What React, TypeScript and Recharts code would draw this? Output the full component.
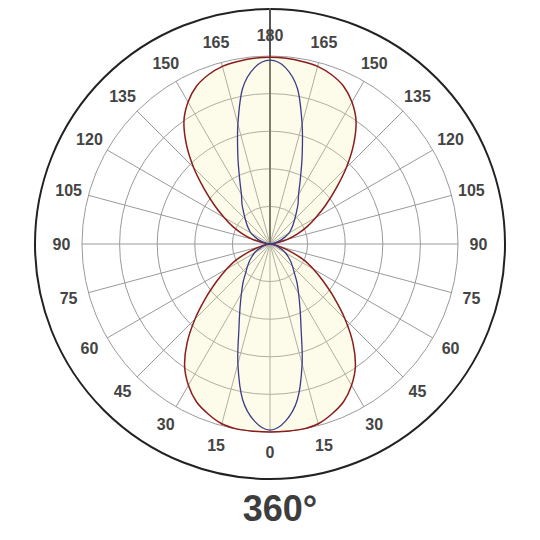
import React from "react";
import { RadarChart, Radar, PolarGrid, PolarAngleAxis, PolarRadiusAxis } from "recharts";

// vertical angle gamma: 0 = straight down, 180 = straight up (5° steps)
const gammaSteps = [
  0, 5, 10, 15, 20, 25, 30, 35, 40, 45, 50, 55, 60, 65, 70, 75, 80, 85, 90,
  95, 100, 105, 110, 115, 120, 125, 130, 135, 140, 145, 150, 155, 160, 165, 170, 175, 180,
];

// C0-C180 plane (red curve)
const planeC0 = [
  500, 500, 500, 495, 481, 463, 434, 396, 343, 282, 223, 173, 133, 98, 56, 29, 13, 4, 0,
  8, 21, 48, 77, 109, 141, 181, 229, 287, 346, 399, 436, 463, 479, 489, 493, 496, 497,
];

// C90-C270 plane (blue curve)
const planeC90 = [
  495, 473, 420, 330, 242, 189, 152, 125, 101, 85, 72, 59, 48, 37, 24, 13, 7, 3, 0,
  3, 9, 19, 32, 45, 59, 69, 80, 93, 109, 130, 152, 191, 250, 330, 420, 471, 489,
];

// rings of the grid
const ringTicks = [0, 100, 200, 300, 400, 500];

// positions of the labelled spokes round the dial, and their labels
const labelAngles = [0, 15, 30, 45, 60, 75, 90, 105, 120, 135, 150, 165, 180, 195, 210, 225, 240, 255, 270, 285, 300, 315, 330, 345];
const angleLabels = [0, 15, 30, 45, 60, 75, 90, 105, 120, 135, 150, 165, 180, 165, 150, 135, 120, 105, 90, 75, 60, 45, 30, 15];

// suspension line, goes straight up out of the frame
const cableLength = 660;

const positions = Array.from({ length: 72 }, (_, i) => i * 5);

const rows = positions.map((phi) => {
  const g = phi <= 180 ? phi : 360 - phi;
  const k = gammaSteps.indexOf(g);
  return { phi, c0: planeC0[k], c90: planeC90[k], cable: phi === 180 ? cableLength : 0 };
});

const spokeAngles = labelAngles.map((a) => a - 90);

function AngleTick(props: any) {
  const { x, y, payload } = props;
  const idx = labelAngles.indexOf(payload.value);
  if (idx < 0) return <g />;
  return (
    <text
      x={x}
      y={y}
      dy={5.7}
      textAnchor="middle"
      fill="#444"
      fontSize={16}
      fontWeight="bold"
      fontFamily="'Liberation Sans', Arial, sans-serif"
    >
      {angleLabels[idx]}
    </text>
  );
}

// closed catmull-rom curve through the radar's own points
function SmoothLobe(props: any) {
  const { points, stroke, strokeWidth, fill, fillOpacity } = props;
  if (!points || points.length < 3) return <g />;
  const n = points.length;
  let d = `M${points[0].x},${points[0].y}`;
  for (let i = 0; i < n; i++) {
    const p0 = points[(i - 1 + n) % n];
    const p1 = points[i];
    const p2 = points[(i + 1) % n];
    const p3 = points[(i + 2) % n];
    const c1x = p1.x + (p2.x - p0.x) / 6;
    const c1y = p1.y + (p2.y - p0.y) / 6;
    const c2x = p2.x - (p3.x - p1.x) / 6;
    const c2y = p2.y - (p3.y - p1.y) / 6;
    d += `C${c1x},${c1y} ${c2x},${c2y} ${p2.x},${p2.y}`;
  }
  d += "Z";
  return <path d={d} stroke={stroke} strokeWidth={strokeWidth} fill={fill} fillOpacity={fillOpacity} />;
}

export default function App() {
  return (
    <div style={{ position: "relative", width: 540, height: 540, margin: -8, background: "#fff" }}>
      <RadarChart
        width={540}
        height={540}
        data={rows}
        cx={270}
        cy={244}
        outerRadius={188}
        startAngle={-90}
        endAngle={270}
        margin={{ top: 0, right: 0, bottom: 0, left: 0 }}
      >
        <PolarGrid gridType="circle" polarRadius={[235]} polarAngles={[]} radialLines={false} stroke="#222" strokeWidth={2} />
        <PolarGrid gridType="circle" polarAngles={spokeAngles} stroke="#9a9a9a" strokeWidth={1} />
        <PolarRadiusAxis angle={90} domain={[0, 500]} allowDataOverflow ticks={ringTicks} tick={false} axisLine={false} />
        <PolarAngleAxis
          dataKey="phi"
          type="number"
          domain={[0, 360]}
          ticks={labelAngles}
          tick={<AngleTick />}
          tickLine={false}
          axisLine={false}
          tickSize={20.5}
        />
        <Radar dataKey="cable" stroke="#555" strokeWidth={2} fill="none" dot={false} isAnimationActive={false} />
        <Radar
          dataKey="c0"
          stroke="#8b1c1c"
          strokeWidth={1.5}
          fill="#f7f0aa"
          fillOpacity={0.25}
          dot={false}
          shape={(p: any) => <SmoothLobe {...p} />}
          isAnimationActive={false}
        />
        <Radar
          dataKey="c90"
          stroke="#3b3b86"
          strokeWidth={1.3}
          fill="none"
          dot={false}
          shape={(p: any) => <SmoothLobe {...p} />}
          isAnimationActive={false}
        />
      </RadarChart>
      <div
        style={{
          position: "absolute",
          left: 0,
          top: 491,
          width: 560,
          textAlign: "center",
          font: "bold 36px 'Liberation Sans', Arial, sans-serif",
          lineHeight: "36px",
          color: "#3d3d3d",
        }}
      >
        360°
      </div>
    </div>
  );
}
